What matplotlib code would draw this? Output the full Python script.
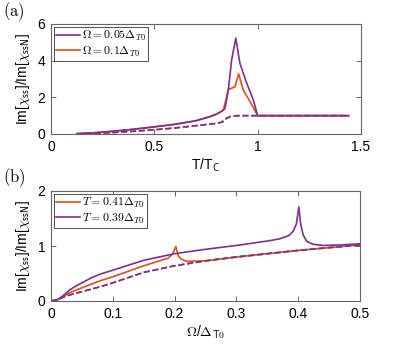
import matplotlib
matplotlib.use("Agg")
import matplotlib.pyplot as plt
import numpy as np

plt.rcParams['font.family'] = ['Liberation Sans', 'DejaVu Sans']
plt.rcParams['mathtext.fontset'] = 'cm'

purple = '#7E2F8E'
orange = '#D95319'

# panel (a): Im[chi_ss]/Im[chi_ssN] vs T/Tc
ta_p = [0.126, 0.2, 0.3, 0.4, 0.5, 0.6, 0.7, 0.77, 0.8, 0.82, 0.834, 0.842, 0.858, 0.874, 0.894, 0.914, 0.947, 0.979, 1.0, 1.44]
ya_p = [0.02, 0.06, 0.15, 0.26, 0.39, 0.53, 0.72, 0.95, 1.08, 1.2, 1.3, 1.4, 2.4, 4.04, 5.23, 3.86, 2.77, 1.86, 1.0, 1.0]
ta_o = [0.126, 0.2, 0.3, 0.4, 0.5, 0.6, 0.7, 0.77, 0.8, 0.82, 0.834, 0.845, 0.858, 0.875, 0.89, 0.908, 0.93, 0.963, 1.0, 1.44]
ya_o = [0.02, 0.06, 0.15, 0.26, 0.39, 0.53, 0.72, 0.95, 1.08, 1.2, 1.32, 1.8, 2.44, 2.5, 2.58, 3.28, 2.4, 1.77, 1.0, 1.0]
ta_pd = [0.126, 0.2, 0.3, 0.4, 0.5, 0.6, 0.7, 0.8, 0.834, 0.85, 0.87, 0.9, 1.0, 1.44]
ya_pd = [0.01, 0.03, 0.08, 0.15, 0.23, 0.33, 0.45, 0.58, 0.67, 0.86, 0.96, 1.0, 1.0, 1.0]
ta_od = [0.126, 0.2, 0.3, 0.4, 0.5, 0.6, 0.7, 0.8, 0.825, 0.845, 0.865, 0.9, 1.0, 1.44]
ya_od = [0.01, 0.03, 0.08, 0.15, 0.23, 0.33, 0.45, 0.58, 0.64, 0.84, 0.94, 1.0, 1.0, 1.0]

# panel (b): Im[chi_ss]/Im[chi_ssN] vs Omega/Delta_T0
wb_p = [0, 0.01, 0.02, 0.03, 0.04, 0.05, 0.065, 0.08, 0.1, 0.15, 0.2, 0.25, 0.3, 0.35, 0.37, 0.385, 0.392, 0.397, 0.401, 0.404, 0.408, 0.414, 0.425, 0.44, 0.47, 0.5]
yb_p = [0, 0.02, 0.1, 0.2, 0.27, 0.33, 0.42, 0.49, 0.56, 0.74, 0.86, 0.94, 1.01, 1.09, 1.13, 1.19, 1.27, 1.4, 1.71, 1.4, 1.2, 1.08, 1.03, 1.01, 1.02, 1.04]
wb_o = [0, 0.01, 0.02, 0.03, 0.05, 0.08, 0.1, 0.15, 0.19, 0.197, 0.202, 0.206, 0.211, 0.22, 0.25, 0.3, 0.35, 0.4, 0.45, 0.5]
yb_o = [0, 0.02, 0.08, 0.15, 0.24, 0.37, 0.44, 0.64, 0.78, 0.86, 0.99, 0.82, 0.76, 0.72, 0.73, 0.8, 0.86, 0.92, 0.97, 1.02]
wb_d = [0, 0.01, 0.02, 0.03, 0.05, 0.08, 0.1, 0.15, 0.2, 0.25, 0.3, 0.35, 0.4, 0.45, 0.5]
yb_d = [0, 0.02, 0.07, 0.11, 0.17, 0.26, 0.33, 0.52, 0.64, 0.73, 0.8, 0.86, 0.92, 0.97, 1.02]

ylab = r'Im[$\chi_{\mathsf{ss}}$]/Im[$\chi_{\mathsf{ssN}}$]'

fig = plt.figure(figsize=(3.99, 3.48), dpi=100)
ax1 = fig.add_axes([51/399, 1-134/348, 310/399, 110/348])
ax2 = fig.add_axes([51/399, 1-301/348, 309/399, 110/348])

# (a)
ax1.plot(ta_od, ya_od, '--', color=orange, lw=1.2)
ax1.plot(ta_pd, ya_pd, '--', color=purple, lw=1.2)
l2, = ax1.plot(ta_o, ya_o, '-', color=orange, lw=1.2)
l1, = ax1.plot(ta_p, ya_p, '-', color=purple, lw=1.2)
ax1.set_xlim(0, 1.5)
ax1.set_ylim(0, 6)
ax1.set_xticks([0, 0.5, 1, 1.5])
ax1.set_xticklabels(['0', '0.5', '1', '1.5'])
ax1.set_yticks([0, 2, 4, 6])
ax1.set_xlabel(r'T/T$_{\mathsf{C}}$', fontsize=10, labelpad=2)
ax1.set_ylabel(ylab, fontsize=10, labelpad=4)
leg1 = ax1.legend([l1, l2], [r'$\Omega = 0.05\Delta_{T0}$', r'$\Omega = 0.1\Delta_{T0}$'],
                  loc='upper left', fontsize=8.5, fancybox=False, framealpha=1,
                  edgecolor='0.2', borderpad=0.2, handlelength=2.0, handletextpad=0.2,
                  labelspacing=0.1, borderaxespad=0.25)
leg1.get_frame().set_linewidth(0.6)

# (b)
ax2.plot(wb_d, yb_d, '--', color=orange, lw=1.2)
m1, = ax2.plot(wb_o, yb_o, '-', color=orange, lw=1.2)
m2, = ax2.plot(wb_p, yb_p, '-', color=purple, lw=1.2)
ax2.plot(wb_d, yb_d, '--', color=purple, lw=1.2)
ax2.set_xlim(0, 0.5)
ax2.set_ylim(0, 2)
ax2.set_xticks([0, 0.1, 0.2, 0.3, 0.4, 0.5])
ax2.set_xticklabels(['0', '0.1', '0.2', '0.3', '0.4', '0.5'])
ax2.set_yticks([0, 1, 2])
ax2.set_xlabel(r'$\Omega$/$\Delta_{\mathsf{T0}}$', fontsize=10, labelpad=2)
ax2.set_ylabel(ylab, fontsize=10, labelpad=4)
leg2 = ax2.legend([m1, m2], [r'$T = 0.41\Delta_{T0}$', r'$T = 0.39\Delta_{T0}$'],
                  loc='upper left', fontsize=8.5, fancybox=False, framealpha=1,
                  edgecolor='0.2', borderpad=0.2, handlelength=2.0, handletextpad=0.2,
                  labelspacing=0.1, borderaxespad=0.25)
leg2.get_frame().set_linewidth(0.6)

for ax in (ax1, ax2):
    ax.tick_params(direction='in', top=True, right=True, labelsize=10,
                   length=3.5, width=0.6, color='0.3', pad=4)
    for s in ax.spines.values():
        s.set_color('0.4')
        s.set_linewidth(0.8)

fig.text(3/399, 1-12/348, r'$\mathrm{(a)}$', fontsize=12, va='center', ha='left')
fig.text(3/399, 1-178/348, r'$\mathrm{(b)}$', fontsize=12, va='center', ha='left')

fig.savefig('out.png', dpi=100)
